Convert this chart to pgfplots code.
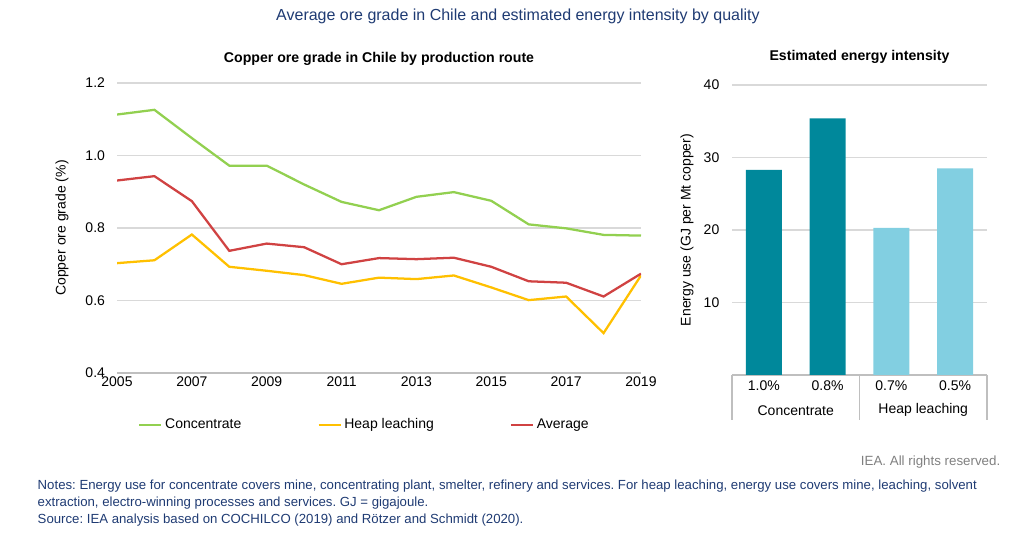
\documentclass[border=0pt]{standalone}
\usepackage{fontspec}
\setmainfont{Liberation Sans}
\usepackage{pgfplots}
\pgfplotsset{compat=1.18}
\frenchspacing
\definecolor{cgreen}{RGB}{146,208,80}
\definecolor{cyellow}{RGB}{255,192,0}
\definecolor{cred}{RGB}{208,66,66}
\definecolor{cteal}{RGB}{0,136,155}
\definecolor{clight}{RGB}{130,207,225}
\definecolor{cnavy}{RGB}{31,59,115}
\definecolor{cgrid}{RGB}{217,217,217}
\definecolor{caxis}{RGB}{191,191,191}
\pgfplotstableread{
year conc heap avg
2005 1.113 0.703 0.931
2006 1.126 0.711 0.943
2007 1.048 0.782 0.874
2008 0.972 0.693 0.737
2009 0.972 0.682 0.757
2010 0.920 0.670 0.747
2011 0.872 0.646 0.700
2012 0.849 0.663 0.717
2013 0.886 0.659 0.714
2014 0.899 0.669 0.718
2015 0.875 0.636 0.693
2016 0.810 0.601 0.653
2017 0.799 0.611 0.649
2018 0.781 0.510 0.611
2019 0.779 0.669 0.674
}\oredata
\pgfplotstableread{
x val
0 28.3
1 35.4
}\concdata
\pgfplotstableread{
x val
2 20.3
3 28.5
}\heapdata
\begin{document}
\begin{tikzpicture}
\path[use as bounding box] (0,0) rectangle (769.5pt,405.75pt);
\pgfplotsset{every axis/.append style={font=\fontsize{10.5}{12.6}\selectfont,
  /pgf/number format/assume math mode=true}}
% main title
\node[text=cnavy,font=\fontsize{12}{14}\selectfont] at (388.5pt,393.5pt) {Average ore grade in Chile and estimated energy intensity by quality};
% left chart
\begin{axis}[
  at={(87.75pt,126pt)}, anchor=south west,
  scale only axis, width=393pt, height=217.5pt,
  xmin=2005, xmax=2019, ymin=0.4, ymax=1.2,
  xtick={2005,2007,...,2019},
  ytick={0.4,0.6,...,1.2},
  xticklabel style={/pgf/number format/1000 sep={}, yshift=1pt},
  yticklabel style={/pgf/number format/fixed, /pgf/number format/fixed zerofill, /pgf/number format/precision=1, xshift=-5.5pt},
  ymajorgrids, grid style={cgrid,line width=0.8pt},
  axis x line*=bottom, axis y line*=left,
  x axis line style={draw=caxis,line width=0.8pt,-},
  y axis line style={draw=none},
  tick style={draw=none},
  ylabel={Copper ore grade (\%)},
  every axis y label/.style={at={(axis description cs:-0.105,0.5)},rotate=90,anchor=center},
  title={\bfseries Copper ore grade in Chile by production route},
  title style={at={(axis description cs:0.5,1)},anchor=south,yshift=3.5pt,font=\fontsize{10.6}{12.6}\selectfont},
  legend columns=3,
  legend style={draw=none, at={(axis description cs:0.04,-0.179)}, anchor=west,
    inner sep=0pt, /tikz/every even column/.append style={column sep=55pt}},
  legend image code/.code={\draw[#1,line width=1.7pt] (0pt,0pt) -- (16.5pt,0pt);},
]
\addplot[cgreen, line width=1.7pt] table[x=year,y=conc] {\oredata};
\addlegendentry{Concentrate}
\addplot[cyellow, line width=1.7pt] table[x=year,y=heap] {\oredata};
\addlegendentry{Heap leaching}
\addplot[cred, line width=1.7pt] table[x=year,y=avg] {\oredata};
\addlegendentry{Average}
\end{axis}
% right chart
\begin{axis}[
  at={(549pt,124.5pt)}, anchor=south west,
  scale only axis, width=191.25pt, height=217.5pt,
  xmin=-0.5, xmax=3.5, ymin=0, ymax=40,
  ybar, bar width=27pt, bar shift=0pt,
  xtick={0,1,2,3},
  xticklabels={1.0\%,0.8\%,0.7\%,0.5\%},
  xticklabel style={yshift=-1pt},
  ytick={10,20,30,40},
  yticklabel style={xshift=-6pt},
  ymajorgrids, grid style={cgrid,line width=0.8pt},
  axis x line*=bottom, axis y line*=left,
  x axis line style={draw=caxis,line width=0.8pt,-},
  y axis line style={draw=none},
  major tick length=0pt,
  xtick style={draw=none}, ytick style={draw=none},
  ylabel={Energy use (GJ per Mt copper)},
  every axis y label/.style={at={(axis description cs:-0.176,0.5)},rotate=90,anchor=center},
  title={\bfseries Estimated energy intensity},
  title style={at={(axis description cs:0.5,1)},anchor=south,yshift=6.5pt,font=\fontsize{10.6}{12.6}\selectfont},
  clip=false,
]
\addplot[fill=cteal, draw=none] table[x=x,y=val] {\concdata};
\addplot[fill=clight, draw=none] table[x=x,y=val] {\heapdata};
\draw[caxis,line width=0.8pt] (axis cs:-0.5,0) -- ++(0pt,-33.75pt);
\draw[caxis,line width=0.8pt] (axis cs:1.5,0) -- ++(0pt,-33.75pt);
\draw[caxis,line width=0.8pt] (axis cs:3.5,0) -- ++(0pt,-33.75pt);
\node at (axis cs:0.5,0) [yshift=-26.5pt] {Concentrate};
\node at (axis cs:2.5,0) [yshift=-26.5pt] {Heap leaching};
\end{axis}
% footer
\node[anchor=east,text=black!50,font=\fontsize{10}{12}\selectfont] at (753.75pt,59.25pt) {IEA. All rights reserved.};
\node[anchor=west,text=cnavy,font=\fontsize{9.9}{12}\selectfont] at (24.75pt,41.25pt) {Notes: Energy use for concentrate covers mine, concentrating plant, smelter, refinery and services. For heap leaching, energy use covers mine, leaching, solvent};
\node[anchor=west,text=cnavy,font=\fontsize{9.9}{12}\selectfont] at (24.75pt,28.5pt) {extraction, electro-winning processes and services. GJ = gigajoule.};
\node[anchor=west,text=cnavy,font=\fontsize{9.9}{12}\selectfont] at (24.75pt,15.75pt) {Source: IEA analysis based on COCHILCO (2019) and Rötzer and Schmidt (2020).};
\end{tikzpicture}
\end{document}
